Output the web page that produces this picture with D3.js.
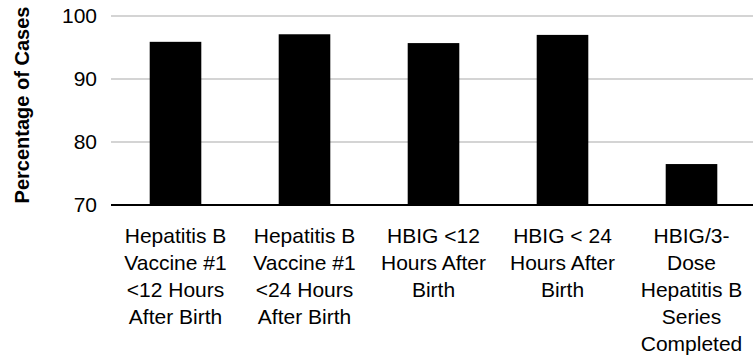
<!DOCTYPE html>
<html>
<head>
<meta charset="utf-8">
<script src="https://cdn.jsdelivr.net/npm/d3@7"></script>
<style>
  html, body { margin: 0; padding: 0; background: #fff; }
  svg { display: block; font-family: "Liberation Sans", Arial, sans-serif; }
</style>
</head>
<body>
<svg id="chart" width="753" height="358"></svg>
<script>
// Category labels, one array of lines per bar
const categories = [
  ["Hepatitis B", "Vaccine #1", "<12 Hours", "After Birth"],
  ["Hepatitis B", "Vaccine #1", "<24 Hours", "After Birth"],
  ["HBIG <12", "Hours After", "Birth"],
  ["HBIG < 24", "Hours After", "Birth"],
  ["HBIG/3-", "Dose", "Hepatitis B", "Series", "Completed"]
];
// Percentage of cases for each category
const values = [95.9, 97.1, 95.7, 97.0, 76.5];
const yTicks = [70, 80, 90, 100];
const yTitle = "Percentage of Cases";

const svg = d3.select("#chart");
const plotLeft = 111, plotRight = 756, plotTop = 16, plotBottom = 205;

const x = d3.scaleBand()
  .domain(d3.range(values.length))
  .range([plotLeft, plotRight])
  .paddingInner(0.6)
  .paddingOuter(0.3);

const y = d3.scaleLinear().domain([70, 100]).range([plotBottom, plotTop]);

// Gridlines
svg.append("g")
  .selectAll("line")
  .data(yTicks.filter(t => t !== 70))
  .join("line")
  .attr("x1", plotLeft).attr("x2", 753)
  .attr("y1", d => y(d)).attr("y2", d => y(d))
  .attr("stroke", "#c6c6c6")
  .attr("stroke-width", 1.5);

// Bars
svg.append("g")
  .selectAll("rect")
  .data(values)
  .join("rect")
  .attr("x", (d, i) => x(i))
  .attr("width", x.bandwidth())
  .attr("y", d => y(d))
  .attr("height", d => y(70) - y(d))
  .attr("fill", "#000");

// Baseline axis
svg.append("line")
  .attr("x1", plotLeft).attr("x2", 753)
  .attr("y1", y(70)).attr("y2", y(70))
  .attr("stroke", "#000")
  .attr("stroke-width", 2);

// Y axis tick labels
const yAxis = d3.axisLeft(y).tickValues(yTicks).tickSize(0).tickPadding(14);
const gy = svg.append("g").attr("transform", `translate(${plotLeft},0)`).call(yAxis);
gy.select(".domain").remove();
gy.selectAll("text")
  .attr("font-size", 21)
  .attr("font-family", "Liberation Sans, Arial, sans-serif")
  .attr("fill", "#000");

// Y axis title
svg.append("text")
  .attr("transform", "translate(29,105) rotate(-90)")
  .attr("text-anchor", "middle")
  .attr("font-size", 20)
  .attr("font-weight", "bold")
  .attr("fill", "#000")
  .text(yTitle);

// Category labels
const lab = svg.append("g")
  .selectAll("text")
  .data(categories)
  .join("text")
  .attr("text-anchor", "middle")
  .attr("font-size", 21)
  .attr("fill", "#000")
  .attr("transform", (d, i) => `translate(${x(i) + x.bandwidth() / 2},243)`);
lab.selectAll("tspan")
  .data(d => d)
  .join("tspan")
  .attr("x", 0)
  .attr("y", (d, j) => j * 27)
  .text(d => d);
</script>
</body>
</html>
